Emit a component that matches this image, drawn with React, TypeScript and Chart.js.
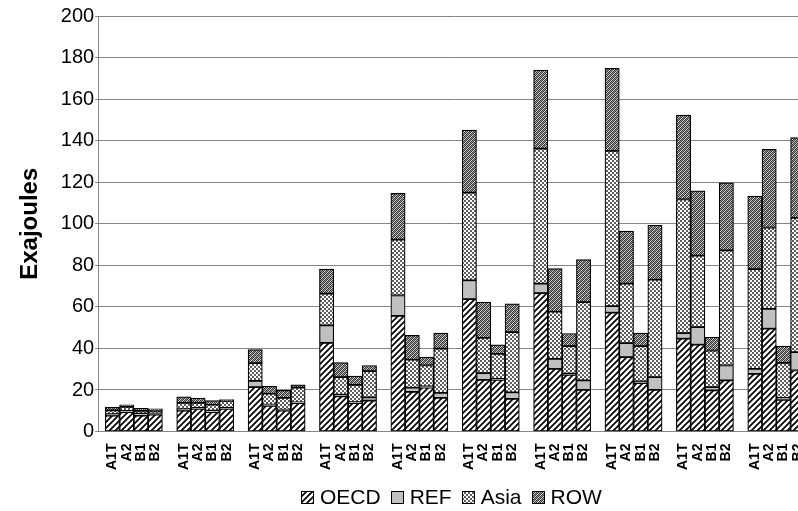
import { useEffect, useRef } from "react";
import { Chart, registerables } from "chart.js";

Chart.register(...registerables);

// Scenario order inside every period group
const scenarios = ["A1T", "A2", "B1", "B2"];
const regions = ["OECD", "REF", "Asia", "ROW"];

// Exajoules per period (10 periods), columns: A1T, A2, B1, B2
const oecd = [
  [7.7, 9.3, 7.7, 8.2],
  [10.1, 10.9, 9.3, 10.9],
  [21.4, 12.4, 10.1, 13.7],
  [42.7, 16.9, 13.7, 14.9],
  [55.7, 19.1, 21.1, 16.2],
  [63.7, 24.9, 24.9, 15.7],
  [66.6, 30.2, 27.3, 20.1],
  [57.2, 35.8, 23.3, 20.1],
  [44.7, 41.8, 19.8, 24.6],
  [27.8, 49.5, 15.3, 29.4],
];
const ref = [
  [0.7, 0.6, 0.9, 0.5],
  [0.7, 0.5, 0.8, 0.5],
  [3.0, 0.6, 0.5, 0.4],
  [8.4, 0.9, 0.5, 1.6],
  [9.8, 2.0, 0.6, 2.4],
  [9.1, 3.2, 0.5, 3.2],
  [4.6, 4.8, 0.6, 4.5],
  [3.2, 6.8, 0.9, 6.1],
  [2.7, 8.5, 1.6, 7.2],
  [2.4, 9.6, 0.9, 8.8],
];
const asia = [
  [1.8, 2.0, 1.4, 1.3],
  [3.0, 2.4, 2.8, 3.4],
  [8.5, 5.2, 5.6, 7.0],
  [15.3, 8.4, 8.3, 12.6],
  [26.9, 13.5, 10.1, 21.3],
  [42.2, 17.0, 12.0, 28.9],
  [65.0, 22.7, 13.2, 37.7],
  [74.7, 28.6, 16.9, 46.9],
  [64.3, 34.4, 17.6, 55.4],
  [48.0, 39.1, 16.9, 64.6],
];
const row = [
  [1.4, 1.0, 1.2, 0.9],
  [2.9, 2.3, 2.0, 0.6],
  [6.5, 3.6, 3.6, 1.4],
  [11.8, 7.0, 4.2, 2.7],
  [22.2, 11.7, 4.0, 7.5],
  [30.1, 17.2, 4.3, 13.7],
  [37.8, 20.7, 6.1, 20.5],
  [39.7, 25.3, 6.3, 26.2],
  [40.6, 31.1, 6.4, 32.5],
  [35.1, 37.6, 8.0, 38.7],
];

const yTicksMax = 200;
const yTicksStep = 20;

const FONT = "'Liberation Sans', Arial, Helvetica, sans-serif";

// Flat category list: an empty spacer slot before every group of four bars
function buildLabels(): string[] {
  const out: string[] = [];
  for (let g = 0; g < oecd.length; g++) {
    out.push("");
    scenarios.forEach((s) => out.push(s));
  }
  out.push("");
  return out;
}

function buildSeries(values: number[][]): (number | null)[] {
  const out: (number | null)[] = [];
  values.forEach((grp) => {
    out.push(null);
    grp.forEach((v) => out.push(v));
  });
  out.push(null);
  return out;
}

function tile(size: number, paint: (ctx: CanvasRenderingContext2D) => void): CanvasPattern {
  const c = document.createElement("canvas");
  c.width = size;
  c.height = size;
  const ctx = c.getContext("2d")!;
  paint(ctx);
  return ctx.createPattern(c, "repeat")!;
}

function makeFills(): Record<string, CanvasPattern | string> {
  const hatch = tile(6, (ctx) => {
    ctx.fillStyle = "#ffffff";
    ctx.fillRect(0, 0, 6, 6);
    ctx.strokeStyle = "#000000";
    ctx.lineWidth = 1.7;
    ctx.beginPath();
    ctx.moveTo(-1, 7);
    ctx.lineTo(7, -1);
    ctx.moveTo(-1, 1);
    ctx.lineTo(1, -1);
    ctx.moveTo(5, 7);
    ctx.lineTo(7, 5);
    ctx.stroke();
  });
  const checker = tile(4, (ctx) => {
    ctx.fillStyle = "#ffffff";
    ctx.fillRect(0, 0, 4, 4);
    ctx.fillStyle = "#606060";
    ctx.fillRect(0, 0, 2, 2);
    ctx.fillRect(2, 2, 2, 2);
  });
  const mottled = tile(4, (ctx) => {
    const D = "#383838";
    const L = "#909090";
    const W = "#d8d8d8";
    const grid = [
      [D, L, D, W],
      [L, D, W, D],
      [D, W, D, L],
      [W, D, L, D],
    ];
    grid.forEach((r, y) =>
      r.forEach((col, x) => {
        ctx.fillStyle = col;
        ctx.fillRect(x, y, 1, 1);
      })
    );
  });
  return { OECD: hatch, REF: "#c0c0c0", Asia: checker, ROW: mottled };
}

export default function App() {
  const canvasRef = useRef<HTMLCanvasElement | null>(null);

  useEffect(() => {
    const canvas = canvasRef.current;
    if (!canvas) return;
    const fills = makeFills();
    const seriesByRegion: Record<string, number[][]> = {
      OECD: oecd,
      REF: ref,
      Asia: asia,
      ROW: row,
    };

    // Legend drawn below the axis, centred on the canvas
    const bottomLegend = {
      id: "bottomLegend",
      afterDraw(chart: Chart) {
        const ctx = chart.ctx;
        const box = 13;
        const gapText = 6;
        const gapItem = 10;
        ctx.save();
        ctx.font = `21px ${FONT}`;
        const widths = regions.map((r) => box + gapText + ctx.measureText(r).width);
        const total = widths.reduce((a, b) => a + b, 0) + gapItem * (regions.length - 1);
        let x = Math.round(chart.width / 2 - total / 2);
        const cy = 497;
        regions.forEach((r, i) => {
          const bx = Math.round(x);
          const by = Math.round(cy - box / 2);
          ctx.fillStyle = fills[r] as any;
          ctx.fillRect(bx, by, box, box);
          ctx.strokeStyle = "#000000";
          ctx.lineWidth = 1;
          ctx.strokeRect(bx + 0.5, by + 0.5, box - 1, box - 1);
          ctx.fillStyle = "#000000";
          ctx.textBaseline = "middle";
          ctx.textAlign = "left";
          ctx.fillText(r, x + box + gapText, cy + 1);
          x += widths[i] + gapItem;
        });
        ctx.restore();
      },
    };

    const chart = new Chart(canvas, {
      type: "bar",
      data: {
        labels: buildLabels(),
        datasets: regions.map((r) => ({
          label: r,
          data: buildSeries(seriesByRegion[r]),
          backgroundColor: fills[r] as any,
          borderColor: "#000000",
          borderWidth: 1.2,
          borderSkipped: false,
          categoryPercentage: 1,
          barPercentage: 1,
        })),
      },
      options: {
        responsive: false,
        animation: false,
        devicePixelRatio: 1,
        layout: { padding: { left: 16, top: 16, right: 90, bottom: 29 } },
        plugins: {
          legend: { display: false },
          tooltip: { enabled: false },
        },
        scales: {
          x: {
            type: "category",
            stacked: true,
            offset: false,
            grid: { display: false, drawTicks: false },
            border: { display: true, color: "#868686", width: 1 },
            ticks: {
              autoSkip: false,
              minRotation: 90,
              maxRotation: 90,
              padding: 12,
              color: "#000000",
              font: { family: FONT, size: 14, weight: "bold" },
            },
          },
          y: {
            stacked: true,
            min: 0,
            max: yTicksMax,
            grid: { color: "#868686", lineWidth: 1, tickLength: 3, drawTicks: true },
            border: { display: true, color: "#868686", width: 1 },
            ticks: {
              stepSize: yTicksStep,
              padding: 1,
              color: "#000000",
              font: { family: FONT, size: 20 },
            },
            title: {
              display: true,
              text: "Exajoules",
              color: "#000000",
              padding: { top: 0, bottom: 15 },
              font: { family: FONT, size: 24, weight: "bold" },
            },
          },
        },
      },
      plugins: [bottomLegend],
    });

    return () => chart.destroy();
  }, []);

  return (
    <div
      style={{
        position: "fixed",
        left: 0,
        top: 0,
        width: "100vw",
        height: "100vh",
        overflow: "hidden",
        background: "#ffffff",
      }}
    >
      <canvas ref={canvasRef} width={902} height={511} style={{ display: "block" }} />
    </div>
  );
}
